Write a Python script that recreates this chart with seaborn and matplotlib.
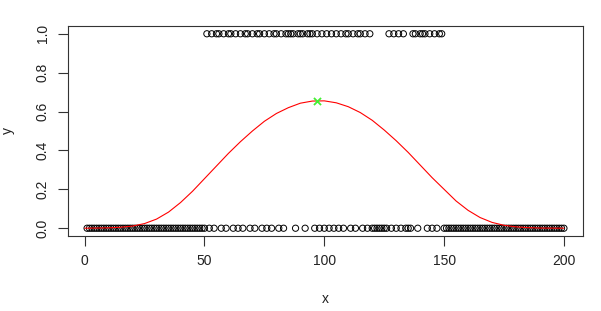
import numpy as np
import pandas as pd
import matplotlib
matplotlib.use("Agg")
import matplotlib.pyplot as plt
import seaborn as sns

# Observed binary outcomes, x = 1..200
x_obs = list(range(1, 201))
mid_y = [1, 0, 1, 0, 1, 1, 0, 1, 0, 1, 1, 0, 1, 0, 1, 0, 1, 1, 0, 1,   # 51-70
         0, 1, 1, 0, 1, 0, 1, 0, 1, 1, 0, 1, 0, 1, 1, 1, 1, 0, 1, 1,   # 71-90
         1, 0, 1, 1, 1, 0, 1, 0, 1, 0, 1, 0, 1, 0, 1, 0, 1, 0, 1, 1,   # 91-110
         0, 1, 0, 1, 1, 0, 1, 0, 1, 0, 0, 0, 0, 0, 0, 0, 1, 0, 1, 0,   # 111-130
         1, 0, 1, 0, 0, 0, 1, 1, 0, 1, 1, 1, 0, 1, 0, 1, 0, 1, 1, 0]   # 131-150
y_obs = [0] * 50 + mid_y + [0] * 50

# Fitted probability curve
curve_x = list(range(0, 201, 5))
curve_p = [0.000, 0.001, 0.002, 0.005, 0.011, 0.024, 0.047, 0.083, 0.132, 0.190,
           0.255, 0.320, 0.385, 0.445, 0.500, 0.550, 0.590, 0.620, 0.643, 0.654,
           0.655, 0.645, 0.625, 0.595, 0.555, 0.505, 0.450, 0.390, 0.325, 0.260,
           0.200, 0.140, 0.092, 0.055, 0.030, 0.015, 0.007, 0.003, 0.001, 0.0005,
           0.0002]

# Maximum point
peak_x = [97]
peak_y = [0.655]

x_ticks = [0, 50, 100, 150, 200]
y_ticks = [0.0, 0.2, 0.4, 0.6, 0.8, 1.0]
y_tick_labels = ["0.0", "0.2", "0.4", "0.6", "0.8", "1.0"]

sns.set_style("ticks")
plt.rcParams['font.family'] = ['Liberation Sans', 'DejaVu Sans']

fig = plt.figure(figsize=(6.01, 3.11), dpi=100)
ax = fig.add_axes([68 / 601, 1 - 236 / 311, (583 - 68) / 601, (236 - 26) / 311])

df = pd.DataFrame({"x": x_obs, "y": y_obs})
sns.scatterplot(data=df, x="x", y="y", ax=ax, marker="o", s=20,
                facecolor="none", edgecolor="black", linewidth=0.7, zorder=2)
sns.lineplot(x=curve_x, y=curve_p, ax=ax, color="#FF0000", linewidth=0.8,
             estimator=None, zorder=3)
ax.scatter(peak_x, peak_y, marker="x", color="#44EE33", s=26, linewidths=1.3, zorder=4)

ax.set_xlim(1 - 199 * 0.04, 200 + 199 * 0.04)
ax.set_ylim(-0.04, 1.04)
ax.set_xticks(x_ticks)
ax.set_xticklabels([str(v) for v in x_ticks])
ax.set_yticks(y_ticks)
ax.set_yticklabels(y_tick_labels, rotation=90, va="center")
ax.tick_params(axis="both", direction="out", length=7, width=0.8, color="#333333",
               labelsize=10, pad=6, labelcolor="#222222")
for sp in ax.spines.values():
    sp.set_visible(True)
    sp.set_linewidth(0.8)
    sp.set_color("#333333")
ax.set_xlabel("x", fontsize=10, labelpad=17, color="#222222")
ax.set_ylabel("y", fontsize=10, labelpad=15, color="#222222")

fig.savefig("out.png", dpi=100)
